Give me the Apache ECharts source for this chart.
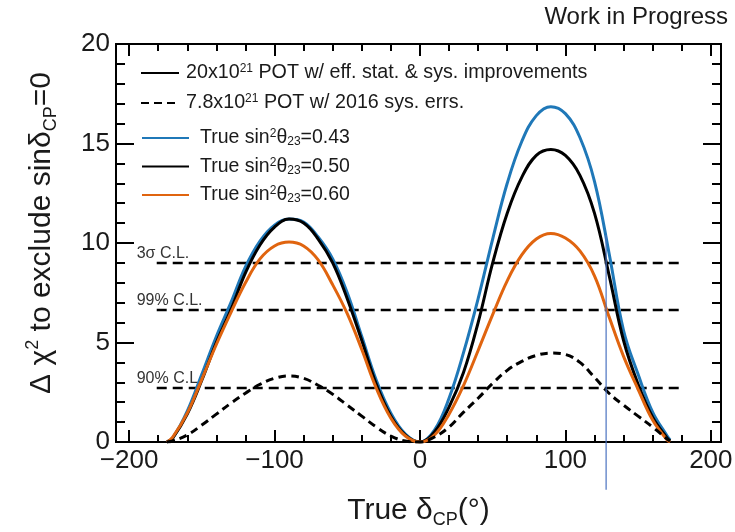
<!DOCTYPE html>
<html>
<head>
<meta charset="utf-8">
<script src="https://cdn.jsdelivr.net/npm/echarts@6/dist/echarts.min.js"></script>
<style>
  html, body { margin: 0; padding: 0; background: #ffffff; }
  #chart { width: 735px; height: 532px; }
</style>
</head>
<body>
<div id="chart"></div>
<script>
// True delta_CP grid (degrees)
const deltaCP = [-174, -170, -160, -150, -140, -130, -120, -110, -100, -90, -80, -70, -60, -50, -40, -30, -20, -10,
  0, 10, 20, 30, 40, 50, 60, 70, 80, 90, 100, 110, 120, 130, 140, 150, 160, 170, 172];

// Delta chi^2 to exclude sin(delta_CP)=0, 20x10^21 POT with improvements
const chi2Sin043 = [0, 0.2, 1.55, 3.4, 5.3, 7.0, 8.8, 10.1, 10.9, 11.2, 11.05, 10.3, 9.2, 7.5, 5.3, 3.1, 1.45, 0.4,
  0, 0.6, 2.2, 4.5, 7.2, 10.2, 13.0, 15.1, 16.4, 16.85, 16.5, 15.3, 13.1, 9.5, 5.6, 3.4, 1.5, 0.3, 0.1];
const chi2Sin050 = [0, 0.2, 1.4, 3.1, 5.0, 6.65, 8.5, 9.9, 10.8, 11.2, 11.0, 10.2, 9.0, 7.2, 5.1, 2.9, 1.3, 0.35,
  0, 0.5, 1.75, 3.5, 6.0, 9.0, 11.5, 13.3, 14.4, 14.7, 14.4, 13.4, 11.5, 8.4, 5.1, 2.9, 1.25, 0.2, 0.05];
const chi2Sin060 = [0, 0.25, 1.45, 3.15, 4.9, 6.5, 8.0, 9.2, 9.85, 10.05, 9.85, 9.15, 7.9, 6.45, 4.65, 2.7, 1.2, 0.3,
  0, 0.35, 1.4, 2.85, 4.6, 6.4, 8.1, 9.4, 10.2, 10.48, 10.25, 9.6, 8.35, 6.3, 4.3, 2.65, 1.1, 0.1, 0];
// 7.8x10^21 POT with 2016 systematic errors
const chi2Pot78 = [0, 0.05, 0.35, 0.85, 1.4, 1.95, 2.45, 2.9, 3.2, 3.32, 3.2, 2.85, 2.4, 1.85, 1.3, 0.75, 0.3, 0.05,
  0, 0.25, 0.75, 1.5, 2.2, 2.95, 3.6, 4.05, 4.35, 4.47, 4.4, 4.0, 3.25, 2.45, 1.85, 1.3, 0.75, 0.15, 0.05];

// Confidence-level reference lines
const clLevels = [9, 6.63, 2.71];
const clNames = ['3σ C.L.', '99% C.L.', '90% C.L.'];
const clSpan = [-181, 178];

// Vertical marker line
const markerDelta = 128;
const markerSpan = [-2.4, 10.4];

// Axis ticks
const xTicks = [-200, -100, 0, 100, 200];
const xMinorTicks = [-200, -180, -160, -140, -120, -100, -80, -60, -40, -20, 0,
  20, 40, 60, 80, 100, 120, 140, 160, 180, 200];
const xRange = [-209, 207];
const yRange = [0, 20];

const legendText = {
  'stat20': '20x10{sup|21} POT w/ eff. stat. & sys. improvements',
  'pot78': '7.8x10{sup|21} POT w/ 2016 sys. errs.',
  's043': 'True sin{sup|2}θ{sub|23}=0.43',
  's050': 'True sin{sup|2}θ{sub|23}=0.50',
  's060': 'True sin{sup|2}θ{sub|23}=0.60'
};

const FONT = '"Liberation Sans", Arial, Helvetica, sans-serif';
const INK = '#1a1a1a';
const BLUE = '#1f78b8';
const ORANGE = '#e0640f';

const pairs = ys => deltaCP.map((x, i) => [x, ys[i]]);

const legendRich = {
  sup: { fontSize: 12, fontFamily: FONT, color: INK, verticalAlign: 'top', lineHeight: 11 },
  sub: { fontSize: 12, fontFamily: FONT, color: INK, verticalAlign: 'bottom', lineHeight: 11 }
};

function xAxisDef(position, ticks, len, withLabels) {
  const ax = {
    type: 'value', min: xRange[0], max: xRange[1], position: position,
    axisLine: { show: withLabels !== null, onZero: false, lineStyle: { color: '#000', width: 2 } },
    axisTick: { show: true, inside: true, length: len, customValues: ticks, lineStyle: { color: '#000', width: 2 } },
    axisLabel: { show: false },
    splitLine: { show: false }
  };
  if (withLabels) {
    ax.axisLabel = {
      show: true, customValues: xTicks, margin: 6, fontSize: 26, fontFamily: FONT, color: INK,
      formatter: v => String(v).replace('-', '−')
    };
    ax.name = 'True δ{sub|CP}(°)';
    ax.nameLocation = 'middle';
    ax.nameGap = 51;
    ax.nameTextStyle = {
      fontSize: 30, fontFamily: FONT, color: INK, lineHeight: 36,
      rich: { sub: { fontSize: 18, fontFamily: FONT, color: INK, verticalAlign: 'bottom', lineHeight: 18 } }
    };
  }
  return ax;
}

function yAxisDef(position, withLabels) {
  const ax = {
    type: 'value', min: yRange[0], max: yRange[1], interval: 5, position: position,
    axisLine: { show: true, onZero: false, lineStyle: { color: '#000', width: 2 } },
    axisTick: { show: true, inside: true, length: 18, lineStyle: { color: '#000', width: 2 } },
    minorTick: { show: true, splitNumber: 5, length: 9, lineStyle: { color: '#000', width: 2 } },
    axisLabel: { show: false },
    splitLine: { show: false },
    minorSplitLine: { show: false }
  };
  if (withLabels) {
    ax.axisLabel = { show: true, margin: 6, fontSize: 26, fontFamily: FONT, color: INK };
    ax.name = 'Δ χ{sup|2} to exclude sinδ{sub|CP}=0';
    ax.nameLocation = 'middle';
    ax.nameRotate = 90;
    ax.nameGap = 56;
    ax.nameTextStyle = {
      fontSize: 30, fontFamily: FONT, color: INK, lineHeight: 36, padding: [0, 0, 0, 20],
      rich: {
        sup: { fontSize: 18, fontFamily: FONT, color: INK, verticalAlign: 'top', lineHeight: 18 },
        sub: { fontSize: 18, fontFamily: FONT, color: INK, verticalAlign: 'bottom', lineHeight: 18 }
      }
    };
  }
  return ax;
}

function curve(name, ys, color, dashed) {
  return {
    name: name, type: 'line', data: pairs(ys), smooth: 0.4, symbol: 'none',
    lineStyle: { color: color, width: 3, type: dashed ? [8, 5] : 'solid' },
    itemStyle: { color: color },
    z: 3
  };
}

const clSeries = clLevels.map((lv, i) => ({
  name: clNames[i], type: 'line', symbol: 'none', showSymbol: true, z: 2,
  lineStyle: { color: '#000', width: 2.5, type: [10, 6] },
  itemStyle: { color: '#000' },
  data: [
    {
      value: [clSpan[0], lv], symbol: 'circle', symbolSize: 0,
      label: {
        show: true, position: 'top', align: 'left', distance: 1, offset: [-20, 0],
        formatter: clNames[i], fontSize: 16, fontFamily: FONT, color: '#333'
      }
    },
    [clSpan[1], lv]
  ]
}));

const legendBase = {
  orient: 'vertical', padding: 0, itemHeight: 14, selectedMode: false,
  itemStyle: { opacity: 0 },
  formatter: n => legendText[n]
};

const option = {
  animation: false,
  backgroundColor: '#ffffff',
  title: {
    text: 'Work in Progress', right: 7, top: 5, padding: 0,
    textStyle: { fontSize: 24, fontWeight: 'normal', fontFamily: FONT, color: INK }
  },
  grid: { left: 116, right: 14, top: 44, bottom: 90, containLabel: false, outerBoundsMode: 'none' },
  legend: [
    Object.assign({}, legendBase, {
      data: ['stat20', 'pot78'], left: 140, top: 63, itemWidth: 38, itemGap: 10,
      textStyle: { fontSize: 19.7, fontFamily: FONT, color: INK, lineHeight: 20, padding: [0, 0, 0, 2], rich: legendRich }
    }),
    Object.assign({}, legendBase, {
      data: ['s043', 's050', 's060'], left: 141, top: 128, itemWidth: 47, itemGap: 8.5,
      textStyle: { fontSize: 19.5, fontFamily: FONT, color: INK, lineHeight: 20, padding: [0, 0, 0, 6], rich: legendRich }
    })
  ],
  xAxis: [
    xAxisDef('bottom', xTicks, 12, true),
    xAxisDef('bottom', xMinorTicks, 7, false),
    xAxisDef('top', xTicks, 12, false),
    xAxisDef('top', xMinorTicks, 7, false)
  ],
  yAxis: [
    yAxisDef('left', true),
    yAxisDef('right', false)
  ],
  series: [
    ...clSeries,
    {
      name: 'stat20', type: 'line', data: [], symbol: 'none',
      lineStyle: { color: '#000', width: 3 }, itemStyle: { color: '#000' }
    },
    curve('s043', chi2Sin043, BLUE, false),
    curve('s050', chi2Sin050, '#000', false),
    curve('s060', chi2Sin060, ORANGE, false),
    curve('pot78', chi2Pot78, '#000', true),
    {
      name: 'marker', type: 'line', symbol: 'none', clip: false, z: 4,
      lineStyle: { color: '#4a72c0', width: 1.2 },
      data: [[markerDelta, markerSpan[0]], [markerDelta, markerSpan[1]]]
    }
  ]
};

const chart = echarts.init(document.getElementById('chart'), null, { renderer: 'canvas' });
chart.setOption(option);
</script>
</body>
</html>
